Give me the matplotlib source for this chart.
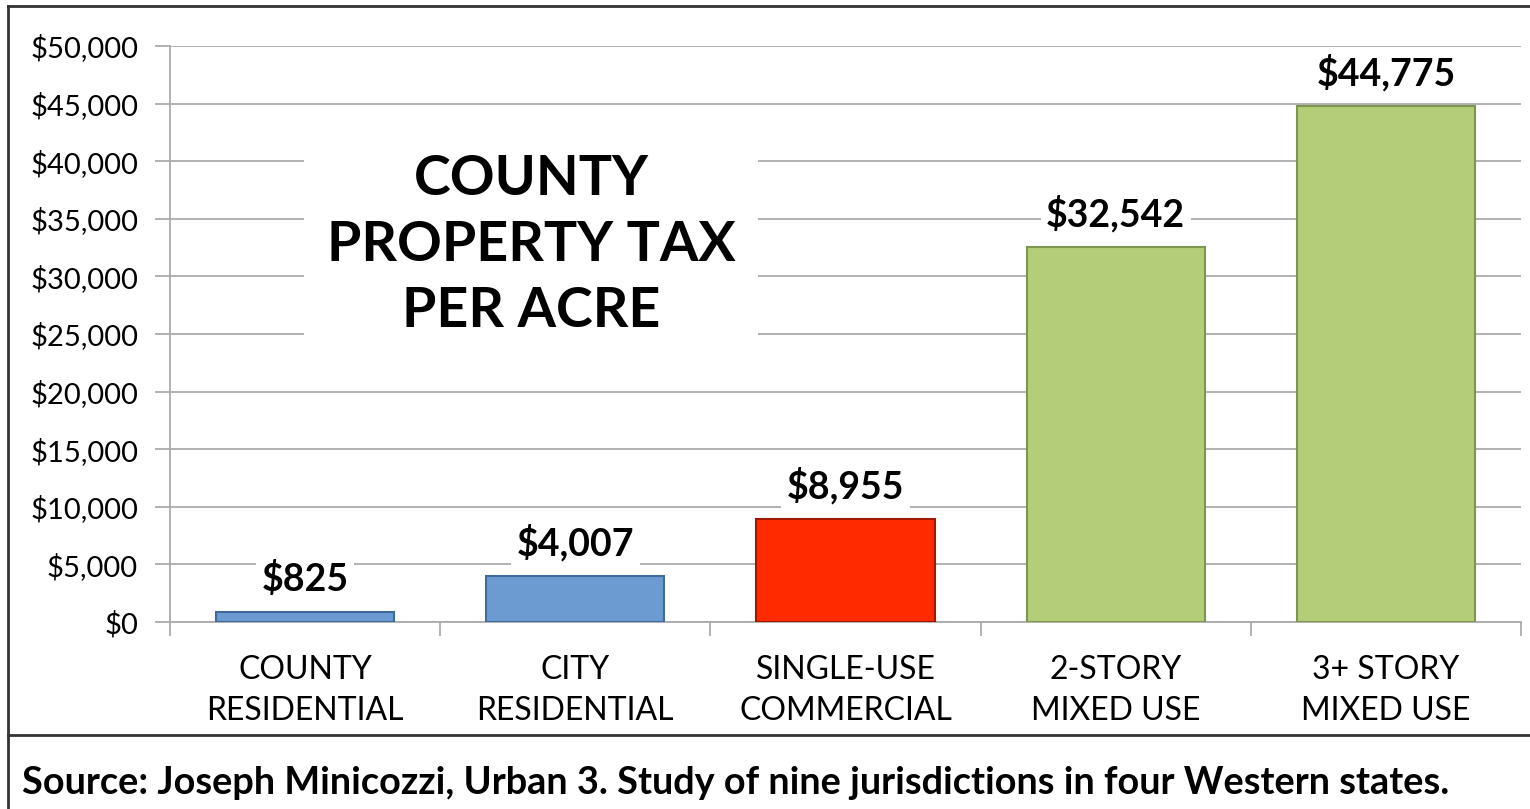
import matplotlib.pyplot as plt
from matplotlib.lines import Line2D
from matplotlib.ticker import FuncFormatter

# data
categories = ['COUNTY\nRESIDENTIAL', 'CITY\nRESIDENTIAL', 'SINGLE-USE\nCOMMERCIAL',
              '2-STORY\nMIXED USE', '3+ STORY\nMIXED USE']
values = [825, 4007, 8955, 32542, 44775]
bar_colors = ['#6b9bd1', '#6b9bd1', '#ff2a00', '#b4cd78', '#b4cd78']
edge_colors = ['#3f6a9a', '#3f6a9a', '#a01800', '#7f9650', '#7f9650']
title = 'COUNTY\nPROPERTY TAX\nPER ACRE'
source = 'Source: Joseph Minicozzi, Urban 3. Study of nine jurisdictions in four Western states.'

plt.rcParams['font.family'] = ['Lato', 'DejaVu Sans']

fig = plt.figure(figsize=(15.3, 8.09), dpi=100)
ax = fig.add_axes([170/1530, 1 - 622/809, 1351/1530, 576/809])

x = range(len(values))
ax.bar(x, values, width=0.66, color=bar_colors, edgecolor=edge_colors, linewidth=1.5, zorder=3)

ax.set_xlim(-0.5, len(values) - 0.5)
ax.set_ylim(0, 50000)
ax.set_yticks(range(0, 50001, 5000))
ax.yaxis.set_major_formatter(FuncFormatter(lambda v, p: '${:,.0f}'.format(v)))
ax.grid(axis='y', color='#ababab', linewidth=1.3, zorder=0)

ax.set_xticks(x)
ax.set_xticklabels(categories, fontsize=23, linespacing=1.45)
ax.set_xticks([i - 0.5 for i in range(len(values) + 1)], minor=True)
ax.tick_params(axis='x', which='major', length=0, pad=24)
ax.tick_params(axis='x', which='minor', length=10, color='#ababab', width=1.3)
ax.tick_params(axis='y', length=11, color='#ababab', width=1.3, labelsize=21, pad=12)

for s in ['top', 'right']:
    ax.spines[s].set_visible(False)
for s in ['left', 'bottom']:
    ax.spines[s].set_color('#ababab')
    ax.spines[s].set_linewidth(1.3)

for i, v in enumerate(values):
    ax.annotate('${:,}'.format(v), (i, v), xytext=(0, 24), textcoords='offset points',
                ha='center', va='center', fontsize=27, fontweight='bold', zorder=4,
                bbox=dict(facecolor='white', edgecolor='none', pad=4))

ax.text((531 - 170) / 1351, (622 - 245) / 576, title, transform=ax.transAxes,
        ha='center', va='center', fontsize=40, fontweight='bold', linespacing=1.38, zorder=4,
        bbox=dict(facecolor='white', edgecolor='none', pad=16))

# outer frame (top, left) and source separator
fig.add_artist(Line2D([8/1530, 1], [1 - 6/809] * 2, transform=fig.transFigure,
                      color='#333333', linewidth=2))
fig.add_artist(Line2D([8/1530] * 2, [0, 1 - 6/809], transform=fig.transFigure,
                      color='#333333', linewidth=2))
fig.add_artist(Line2D([8/1530, 1], [1 - 735/809] * 2, transform=fig.transFigure,
                      color='#333333', linewidth=2))
fig.text(22/1530, 1 - 783/809, source, fontsize=27.3, fontweight='bold', va='center', ha='left')

fig.savefig('out.png', dpi=100)
